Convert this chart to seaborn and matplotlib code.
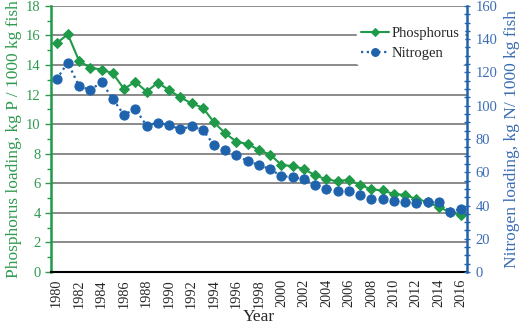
import numpy as np
import pandas as pd
import matplotlib
matplotlib.use("Agg")
import matplotlib.pyplot as plt
import seaborn as sns
from matplotlib.ticker import MultipleLocator

years = list(range(1980, 2017))
phosphorus = [15.47, 16.08, 14.28, 13.82, 13.69, 13.44, 12.38, 12.88, 12.20, 12.81,
              12.31, 11.82, 11.41, 11.12, 10.13, 9.38, 8.82, 8.66, 8.25, 7.95,
              7.24, 7.17, 6.97, 6.54, 6.27, 6.14, 6.25, 5.89, 5.59, 5.52,
              5.28, 5.21, 4.94, 4.74, 4.38, 4.06, 3.84]
nitrogen = [115.9, 125.9, 111.7, 109.5, 114.1, 104.1, 94.4, 98.2, 88.0, 89.8,
            88.4, 85.8, 87.6, 85.4, 76.4, 73.6, 70.2, 66.6, 64.4, 61.8,
            57.7, 57.0, 55.9, 52.5, 50.1, 48.7, 48.7, 46.1, 43.7, 43.7,
            42.5, 42.1, 41.3, 42.1, 42.1, 36.1, 37.9]
tick_years = [str(y) for y in range(1980, 2017, 2)]

green = "#1f9a48"
blue = "#1f63ad"
green_txt = "#2f9a4f"
blue_txt = "#3b6db3"

sns.set_style("white")
plt.rcParams['font.family'] = ['Liberation Serif', 'DejaVu Serif']

df = pd.DataFrame({"idx": np.arange(len(years)), "P": phosphorus, "N": nitrogen})

fig, ax = plt.subplots(figsize=(5.2, 3.27), dpi=100)
fig.subplots_adjust(left=0.098, right=0.898, top=0.982, bottom=0.168)
ax2 = ax.twinx()

sns.lineplot(data=df, x="idx", y="P", ax=ax, color=green, marker="D", markersize=5.3,
             markeredgecolor=green, linewidth=1.5, label="Phosphorus", legend=False, zorder=3)
sns.lineplot(data=df, x="idx", y="N", ax=ax2, color=blue, marker="o", markersize=6.6,
             markeredgecolor=blue, linewidth=1.6, linestyle=(0, (1, 1.6)),
             label="Nitrogen", legend=False, zorder=3)

ax.set_xlim(-0.5, len(years) - 0.5)
ax.set_ylim(0, 18)
ax2.set_ylim(0, 160)
ax.yaxis.set_major_locator(MultipleLocator(2))
ax.yaxis.set_minor_locator(MultipleLocator(1))
ax2.yaxis.set_major_locator(MultipleLocator(20))
ax2.yaxis.set_minor_locator(MultipleLocator(5))

ax.set_xticks(np.arange(0, len(years), 2))
ax.set_xticklabels(tick_years, rotation=90, fontsize=10.3)
ax.set_xticks(np.arange(-0.5, len(years), 1), minor=True)
ax.tick_params(axis="x", which="major", length=0, pad=5)
ax.tick_params(axis="x", which="minor", length=4, width=1, color="black", direction="inout")

ax.grid(axis="y", which="major", color="#6b6b6b", linewidth=1.1)
ax.set_axisbelow(True)

ax.tick_params(axis="y", which="major", colors=green_txt, labelsize=10.5, length=4, width=1, direction="out", left=True)
ax.tick_params(axis="y", which="minor", color=green, length=3, width=1, direction="out", left=True)
ax2.tick_params(axis="y", which="major", colors=blue_txt, labelsize=10.5, length=5, width=1, direction="inout", right=True)
ax2.tick_params(axis="y", which="minor", color=blue, length=4, width=1, direction="inout", right=True)

for a in (ax, ax2):
    a.spines["top"].set_visible(False)
ax.spines["left"].set_color(green)
ax.spines["left"].set_linewidth(1.8)
ax.spines["right"].set_visible(False)
ax2.spines["left"].set_visible(False)
ax2.spines["bottom"].set_visible(False)
ax2.spines["right"].set_color(blue)
ax2.spines["right"].set_linewidth(1.8)
ax.spines["bottom"].set_color("black")
ax.spines["bottom"].set_linewidth(1.5)

ax.set_xlabel("Year", fontsize=12.5, labelpad=1)
ax.set_ylabel("Phosphorus loading, kg P / 1000 kg fish", fontsize=12.5, color=green_txt, labelpad=3)
ax2.set_ylabel("Nitrogen loading, kg N/ 1000 kg fish", fontsize=12.5, color=blue_txt, labelpad=5)

h1, l1 = ax.get_legend_handles_labels()
h2, l2 = ax2.get_legend_handles_labels()
leg = ax2.legend(h1 + h2, l1 + l2, loc="upper right", bbox_to_anchor=(1.0, 0.95),
                 frameon=True, fontsize=10.5, markerscale=0.85, handlelength=1.9,
                 handletextpad=0.2, labelspacing=0.5, borderaxespad=0.2, borderpad=0.3)
leg.get_frame().set_facecolor("white")
leg.get_frame().set_edgecolor("white")
leg.get_frame().set_alpha(1.0)

fig.savefig("out.png", dpi=100)
